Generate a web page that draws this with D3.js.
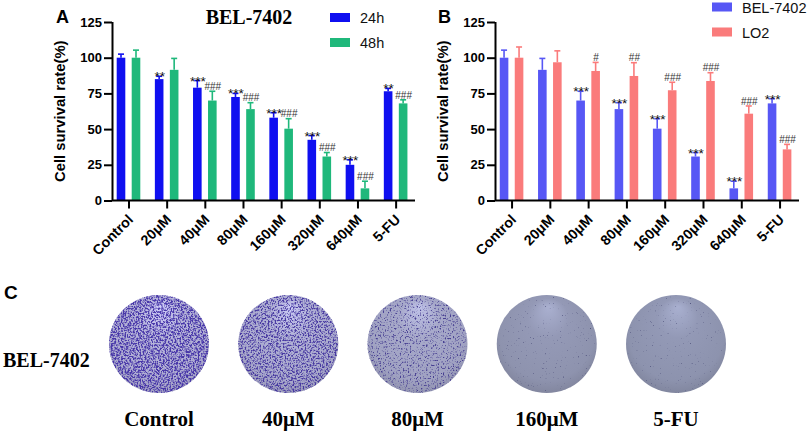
<!DOCTYPE html>
<html><head><meta charset="utf-8">
<script src="https://cdn.jsdelivr.net/npm/d3@7"></script>
<style>body{margin:0;background:#fff;} svg{display:block;font-family:Arial,"Liberation Sans",sans-serif;}</style>
</head><body><svg id="c" width="809" height="431"></svg>
<script>
const categories = ["Control","20μM","40μM","80μM","160μM","320μM","640μM","5-FU"];
const yTicks = [0,25,50,75,100,125];
// Panel A
const seriesA = ["24h","48h"];
const a24 = [100,85,79,72.5,58,42.5,25,76.5];
const a24Err = [2.5,2,5,2.5,3.5,3,3.5,2];
const a48 = [100,91.5,70,64,50.3,30.8,8.5,68];
const a48Err = [5.3,8,6.5,4.5,7,2.8,5,2.5];
const a24Sig = ["","**","***","***","***","***","***","**"];
const a48Sig = ["","","###","###","###","###","###","###"];
// Panel B
const seriesB = ["BEL-7402","LO2"];
const bBel = [100,91.5,70,64,50.3,30.8,8.5,68];
const bBelErr = [5.3,8,6.5,4.5,7,2.8,5,3.3];
const bLo2 = [100,96.8,90.7,87.2,77.2,83.7,60.8,35.8];
const bLo2Err = [7.5,8,6,9.3,5.6,5.8,5.4,3.5];
const bBelSig = ["","","***","***","***","***","***","***"];
const bLo2Sig = ["","","#","##","###","###","###","###"];
// Panel C
const dishLabels = ["Control","40μM","80μM","160μM","5-FU"];
const dishStain = [0.92,0.8,0.55,0.1,0.08];

const svg = d3.select("#c");
const defs = svg.append("defs");

function drawPanel(opt){
  const x = d3.scalePoint().domain(categories).range([opt.x0, opt.x1]).padding(0.47).align(0.46);
  const y = d3.scaleLinear().domain([0,125]).range([200.5,22]);
  const g = svg.append("g");
  const series = [
    {name: opt.names[0], vals: opt.v1, err: opt.e1, sig: opt.s1, color: opt.c1, off: -7.5},
    {name: opt.names[1], vals: opt.v2, err: opt.e2, sig: opt.s2, color: opt.c2, off: 7.5}
  ];
  const bw = 8.6;
  series.forEach(s => {
    const sg = g.append("g");
    sg.selectAll("line.e").data(categories).join("line")
      .attr("x1", (c)=>x(c)+s.off).attr("x2",(c)=>x(c)+s.off)
      .attr("y1",(c,i)=>y(s.vals[i])).attr("y2",(c,i)=>y(s.vals[i]+s.err[i]))
      .attr("stroke", s.color).attr("stroke-width",1.6);
    sg.selectAll("line.cap").data(categories).join("line")
      .attr("x1", (c)=>x(c)+s.off-3).attr("x2",(c)=>x(c)+s.off+3)
      .attr("y1",(c,i)=>y(s.vals[i]+s.err[i])).attr("y2",(c,i)=>y(s.vals[i]+s.err[i]))
      .attr("stroke", s.color).attr("stroke-width",1.6);
    sg.selectAll("rect").data(categories).join("rect")
      .attr("x",(c)=>x(c)+s.off-bw/2).attr("width",bw)
      .attr("y",(c,i)=>y(s.vals[i])).attr("height",(c,i)=>y(0)-y(s.vals[i]))
      .attr("fill", s.color);
    sg.selectAll("text").data(categories).join("text")
      .attr("x",(c)=>x(c)+s.off+0.5)
      .attr("y",(c,i)=>{const t=y(s.vals[i]+s.err[i]); return s.sig[i].startsWith("*")? t+5 : t-1.2;})
      .attr("text-anchor","middle")
      .attr("font-size",(c,i)=>s.sig[i].startsWith("*")?13.5:10)
      .attr("fill",(c,i)=>s.sig[i].startsWith("*")?"#111":"#333")
      .text((c,i)=>s.sig[i]);
  });
  const ya = g.append("g").attr("transform",`translate(${opt.x0},0)`)
    .call(d3.axisLeft(y).tickValues(yTicks).tickSize(8).tickSizeOuter(0).tickPadding(2));
  const xa = g.append("g").attr("transform",`translate(0,${y(0)})`)
    .call(d3.axisBottom(x).tickSize(8).tickSizeOuter(0));
  [ya,xa].forEach(a=>{
    a.selectAll("path,line").attr("stroke","#000").attr("stroke-width",2);
    a.selectAll("text").attr("font-family","Arial, 'Liberation Sans', sans-serif").attr("font-weight","bold").attr("font-size",13).attr("fill","#000");
  });
  ya.select(".domain").attr("d",`M0.5,${y(125)}V${y(0)}`);
  xa.select(".domain").attr("d",`M${opt.x0},0H${opt.x1}`);
  xa.selectAll("text")
    .attr("text-anchor","end").attr("font-size",14.2)
    .attr("transform","translate(5,20) rotate(-45)")
    .attr("dy","0").attr("dx","0").attr("y",0);
  g.append("text").attr("transform",`translate(${opt.labX},${(y(0)+y(125))/2}) rotate(-90)`)
    .attr("text-anchor","middle").attr("font-weight","bold").attr("font-size",14.8)
    .text("Cell survival rate(%)");
  g.append("text").attr("x",opt.letterX).attr("y",23).attr("font-weight","bold").attr("font-size",18).text(opt.letter);
  const lg = g.append("g");
  series.forEach((s,i)=>{
    lg.append("rect").attr("x",opt.legX).attr("y",opt.legY+i*25).attr("width",20).attr("height",9).attr("fill",s.color);
    lg.append("text").attr("x",opt.legX+30).attr("y",opt.legY+i*25+10).attr("font-size",14.5).attr("fill","#111").text(s.name);
  });
}

drawPanel({x0:112,x1:415,names:seriesA,v1:a24,e1:a24Err,s1:a24Sig,c1:"#0f0ff0",v2:a48,e2:a48Err,s2:a48Sig,c2:"#1fb87b",
  labX:65,letter:"A",letterX:56,legX:330,legY:13});
drawPanel({x0:495,x1:799,names:seriesB,v1:bBel,e1:bBelErr,s1:bBelSig,c1:"#5757f5",v2:bLo2,e2:bLo2Err,s2:bLo2Sig,c2:"#fa7b7b",
  labX:448,letter:"B",letterX:438,legX:712,legY:2.5});

svg.append("text").attr("x",249).attr("y",24).attr("text-anchor","middle")
  .attr("font-family","'Liberation Serif','Times New Roman',serif").attr("font-weight","bold").attr("font-size",20).text("BEL-7402");

// Panel C
svg.append("text").attr("x",4).attr("y",299).attr("font-weight","bold").attr("font-size",19).text("C");
svg.append("text").attr("x",3).attr("y",367)
  .attr("font-family","'Liberation Serif','Times New Roman',serif").attr("font-weight","bold").attr("font-size",20).text("BEL-7402");

const xd = d3.scalePoint().domain(dishLabels).range([159,676]);
const cy = 344, rx = 50, ry = 49;
const baseLo = d3.interpolateRgb("#8a90aa", "#b2b0d6");
const spotCol = d3.interpolateRgb("#40446a", "#3d28aa");
dishLabels.forEach((lab,i)=>{
  const st = dishStain[i];
  const gr = defs.append("radialGradient").attr("id","dg"+i).attr("cx","50%").attr("cy","45%").attr("r","58%").attr("fx","52%").attr("fy","12%");
  const base = d3.color(baseLo(st));
  gr.append("stop").attr("offset","0%").attr("stop-color", d3.color(base).brighter(0.5));
  gr.append("stop").attr("offset","35%").attr("stop-color", d3.color(base).brighter(0.12));
  gr.append("stop").attr("offset","82%").attr("stop-color", base);
  gr.append("stop").attr("offset","100%").attr("stop-color", d3.color(base).darker(0.3));
  const sc = d3.color(spotCol(st));
  const t = 0.74 - 0.36*st;
  const k = 4.5;
  const f = defs.append("filter").attr("id","sp"+i).attr("x",0).attr("y",0).attr("width",1).attr("height",1)
    .attr("color-interpolation-filters","sRGB");
  f.append("feTurbulence").attr("type","fractalNoise").attr("baseFrequency",0.6).attr("numOctaves",2).attr("seed",i*7+3).attr("result","n");
  f.append("feColorMatrix").attr("in","n").attr("type","matrix")
    .attr("values",`0 0 0 0 ${sc.r/255} 0 0 0 0 ${sc.g/255} 0 0 0 0 ${sc.b/255} ${k} 0 0 0 ${-k*t}`).attr("result","s");
  f.append("feComposite").attr("in","s").attr("in2","SourceGraphic").attr("operator","in");
  const cx = xd(lab);
  svg.append("ellipse").attr("cx",cx).attr("cy",cy).attr("rx",rx).attr("ry",ry).attr("fill",`url(#dg${i})`);
  svg.append("ellipse").attr("cx",cx).attr("cy",cy).attr("rx",rx).attr("ry",ry).attr("fill","#000")
    .attr("filter",`url(#sp${i})`).attr("opacity", 0.9);
  svg.append("text").attr("x",cx).attr("y",426).attr("text-anchor","middle")
    .attr("font-family","'Liberation Serif','Times New Roman',serif").attr("font-weight","bold").attr("font-size",21).text(lab);
});
</script></body></html>
